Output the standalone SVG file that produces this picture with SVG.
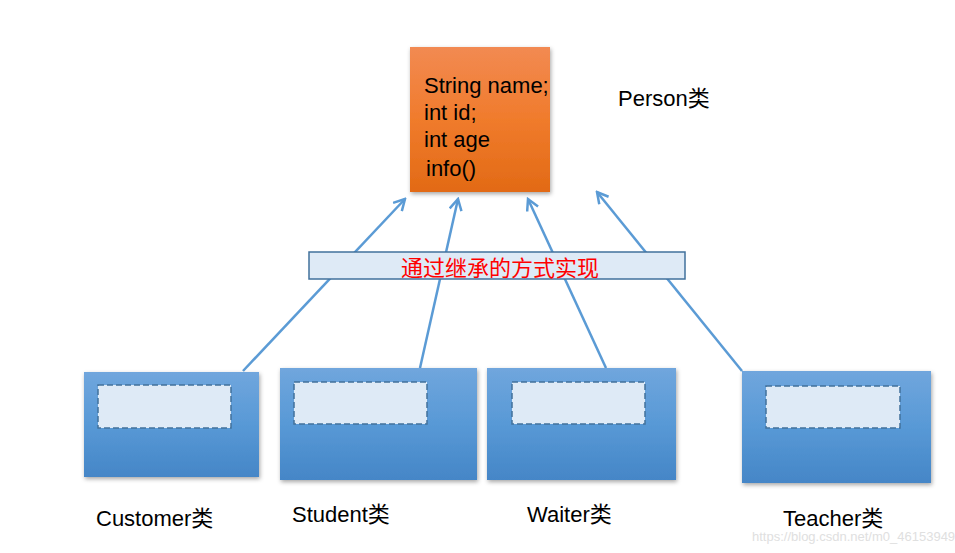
<svg xmlns="http://www.w3.org/2000/svg" width="955" height="553" viewBox="0 0 955 553">
<defs>
<linearGradient id="orange" x1="0" y1="0" x2="0" y2="1">
<stop offset="0" stop-color="#F28A52"/>
<stop offset="0.5" stop-color="#F07B2C"/>
<stop offset="1" stop-color="#E26A15"/>
</linearGradient>
<linearGradient id="blue" x1="0" y1="0" x2="0" y2="1">
<stop offset="0" stop-color="#70A6DD"/>
<stop offset="0.5" stop-color="#5899D6"/>
<stop offset="1" stop-color="#4586C7"/>
</linearGradient>
<filter id="shadow" x="-10%" y="-10%" width="125%" height="130%">
<feDropShadow dx="1" dy="2" stdDeviation="2" flood-color="#000" flood-opacity="0.35"/>
</filter>
<marker id="arrow" viewBox="0 0 14 14" refX="12" refY="7" markerWidth="14" markerHeight="14" markerUnits="userSpaceOnUse" orient="auto">
<path d="M1,1 L12,7 L1,13" fill="none" stroke="#5B9BD5" stroke-width="2.5"/>
</marker>
</defs>
<style>
.lbl{font-family:"Liberation Sans",Arial,"Noto Sans CJK SC",sans-serif;font-size:22px;fill:#000}
.conn{stroke:#5B9BD5;stroke-width:2.5;fill:none}
.child{fill:url(#blue);filter:url(#shadow)}
.inner{fill:#DEEAF6;stroke:#41719C;stroke-width:1.5;stroke-dasharray:6 3}
</style>
<rect width="955" height="553" fill="#fff"/>

<g id="connectors">
<line class="conn" x1="243" y1="371" x2="405" y2="199" marker-end="url(#arrow)"/>
<line class="conn" x1="420" y1="368" x2="458" y2="199" marker-end="url(#arrow)"/>
<line class="conn" x1="606" y1="368" x2="528" y2="199" marker-end="url(#arrow)"/>
<line class="conn" x1="742" y1="371" x2="597" y2="192" marker-end="url(#arrow)"/>
</g>

<g id="person">
<rect x="410" y="47" width="140" height="145" fill="url(#orange)" filter="url(#shadow)"/>
<text class="lbl" x="424" y="93">String name;</text>
<text class="lbl" x="424" y="120">int id;</text>
<text class="lbl" x="424" y="147">int age</text>
<text class="lbl" x="426" y="176">info()</text>
<text class="lbl" x="618" y="106">Person类</text>
</g>

<g id="banner">
<rect x="309" y="252" width="376" height="27" fill="#DEEAF6" stroke="#41719C" stroke-width="1.5"/>
<text x="500" y="276" text-anchor="middle" font-family="'Noto Sans CJK SC',sans-serif" font-size="22" fill="#FF0000">通过继承的方式实现</text>
</g>

<g id="customer">
<rect class="child" x="84" y="372" width="175" height="105"/>
<rect class="inner" x="98" y="385" width="133" height="43"/>
<text class="lbl" x="96" y="526">Customer类</text>
</g>

<g id="student">
<rect class="child" x="280" y="368" width="197" height="112"/>
<rect class="inner" x="294" y="382" width="133" height="42"/>
<text class="lbl" x="292" y="522">Student类</text>
</g>

<g id="waiter">
<rect class="child" x="487" y="368" width="189" height="112"/>
<rect class="inner" x="512" y="382" width="133" height="42"/>
<text class="lbl" x="527" y="522">Waiter类</text>
</g>

<g id="teacher">
<rect class="child" x="742" y="371" width="189" height="112"/>
<rect class="inner" x="766" y="386" width="134" height="42"/>
<text class="lbl" x="783" y="526">Teacher类</text>
</g>

<text x="752" y="541" font-family="'Liberation Sans',Arial,sans-serif" font-size="13" fill="#E0E0E0">https://blog.csdn.net/m0_46153949</text>
</svg>
